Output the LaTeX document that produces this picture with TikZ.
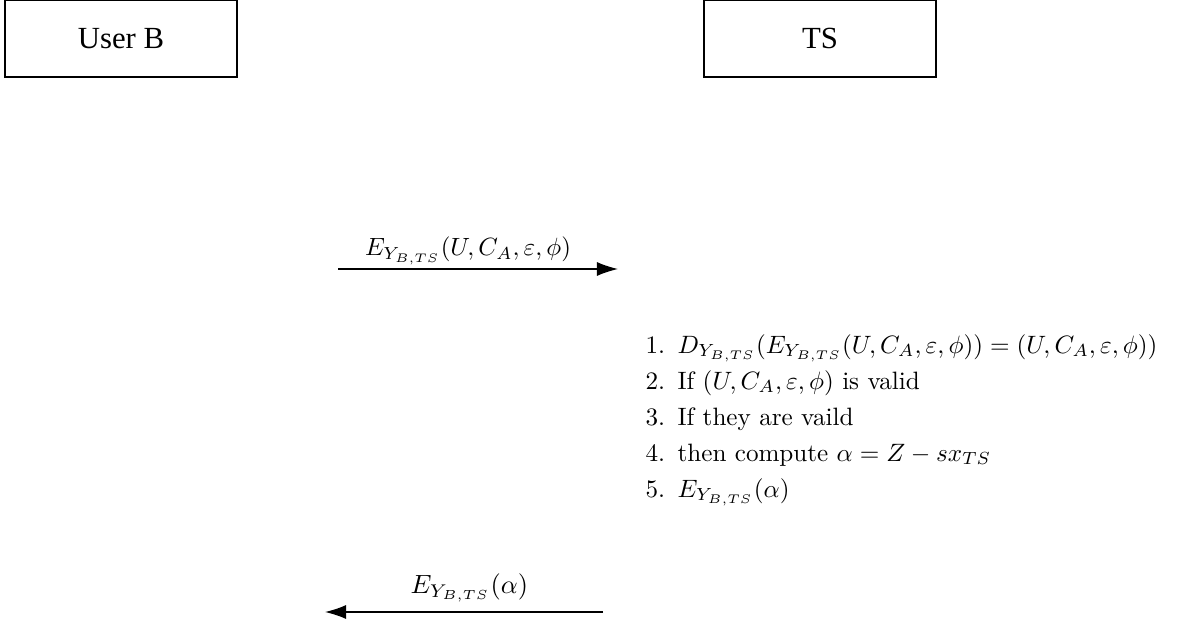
\documentclass[tikz,border=0pt]{standalone}
\usepackage{fontspec}
\newfontfamily\boxfont{Liberation Serif}
\usetikzlibrary{positioning,arrows.meta}

\begin{document}
\begin{tikzpicture}[x=0.02cm,y=-0.02cm,
  party/.style={draw,line width=0.6pt,minimum width=4.64cm,minimum height=1.54cm,
    inner sep=0pt,font=\boxfont\fontsize{17.5}{20}\selectfont},
  msg/.style={-{Latex[length=12pt,width=8pt]},line width=0.7pt},
  lbl/.style={font=\normalsize,inner sep=0pt,transform shape},
  stepline/.style={anchor=base west,inner sep=0pt,font=\normalsize,scale=1.43,transform shape}]
\useasboundingbox (0,0) rectangle (1178,622);
% the two parties
\node[party] (userb) at (121,38.5) {User B};
\node[party] (ts) at (820,38.5) {TS};
% request from User B to TS
\coordinate (reqs) at (338,269);
\coordinate (reqe) at (618,269);
\draw[msg] (reqs) -- node[lbl,scale=1.42,above=2pt,xshift=-4pt] (req)
  {$E_{Y_{B,TS}}(U,C_A,\varepsilon,\phi)$} (reqe);
% steps done by TS
\foreach \i/\t in {1/{$D_{Y_{B,TS}}(E_{Y_{B,TS}}(U,C_A,\varepsilon,\phi))=(U,C_A,\varepsilon,\phi))$},
    2/{If $(U,C_A,\varepsilon,\phi)$ is valid},
    3/{If they are vaild},
    4/{then compute $\alpha=Z-sx_{TS}$},
    5/{$E_{Y_{B,TS}}(\alpha)$}}{
  \node[stepline] (step\i) at (645,353+36*\i-36) {\i.\hspace{0.5em}\t};
}
% reply from TS to User B
\coordinate (reps) at (603,612);
\coordinate (repe) at (325,612);
\draw[msg] (reps) -- node[lbl,scale=1.5,above=5pt,xshift=2pt] (rep)
  {$E_{Y_{B,TS}}(\alpha)$} (repe);
\end{tikzpicture}
\end{document}
